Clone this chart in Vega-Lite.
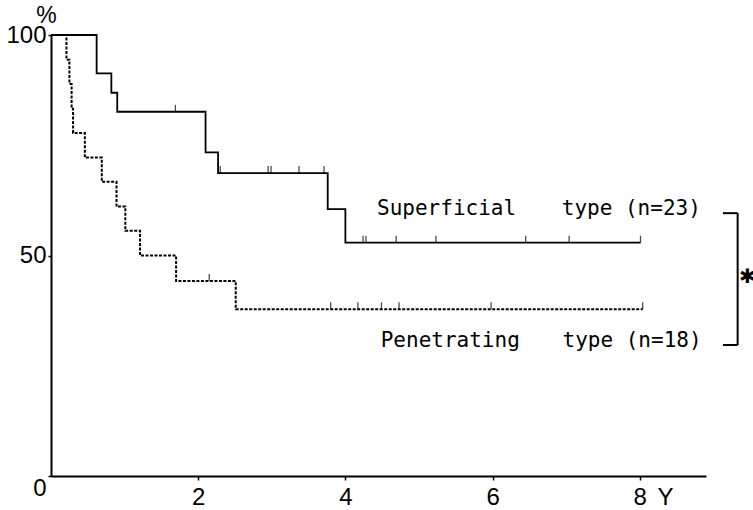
{
  "$schema": "https://vega.github.io/schema/vega-lite/v6.json",
  "width": 655,
  "height": 441,
  "autosize": "none",
  "padding": {"left": 51, "top": 35, "right": 47, "bottom": 34},
  "background": "white",
  "config": {
    "view": {"stroke": null},
    "axis": {"grid": false, "domainColor": "black", "tickColor": "black", "labelColor": "black", "titleColor": "black", "labelFont": "Liberation Sans", "titleFont": "Liberation Sans", "titleFontWeight": "normal"}
  },
  "datasets": {
    "curves": [
      {"series": "Superficial", "t": 0, "s": 100},
      {"series": "Superficial", "t": 0.62, "s": 91.3},
      {"series": "Superficial", "t": 0.82, "s": 86.9},
      {"series": "Superficial", "t": 0.90, "s": 82.6},
      {"series": "Superficial", "t": 2.10, "s": 73.4},
      {"series": "Superficial", "t": 2.27, "s": 68.7},
      {"series": "Superficial", "t": 3.76, "s": 60.5},
      {"series": "Superficial", "t": 4.00, "s": 52.9},
      {"series": "Superficial", "t": 8.01, "s": 52.9},
      {"series": "Penetrating", "t": 0, "s": 100},
      {"series": "Penetrating", "t": 0.21, "s": 94.4},
      {"series": "Penetrating", "t": 0.25, "s": 88.9},
      {"series": "Penetrating", "t": 0.28, "s": 83.3},
      {"series": "Penetrating", "t": 0.30, "s": 77.8},
      {"series": "Penetrating", "t": 0.46, "s": 72.2},
      {"series": "Penetrating", "t": 0.69, "s": 66.7},
      {"series": "Penetrating", "t": 0.89, "s": 61.1},
      {"series": "Penetrating", "t": 1.01, "s": 55.6},
      {"series": "Penetrating", "t": 1.21, "s": 50.0},
      {"series": "Penetrating", "t": 1.70, "s": 44.2},
      {"series": "Penetrating", "t": 2.51, "s": 37.8},
      {"series": "Penetrating", "t": 8.04, "s": 37.8}
    ],
    "censors": [
      {"series": "Superficial", "t": 1.69, "s": 82.6},
      {"series": "Superficial", "t": 2.30, "s": 68.7},
      {"series": "Superficial", "t": 2.95, "s": 68.7},
      {"series": "Superficial", "t": 2.99, "s": 68.7},
      {"series": "Superficial", "t": 3.37, "s": 68.7},
      {"series": "Superficial", "t": 3.71, "s": 68.7},
      {"series": "Superficial", "t": 4.24, "s": 52.9},
      {"series": "Superficial", "t": 4.28, "s": 52.9},
      {"series": "Superficial", "t": 4.69, "s": 52.9},
      {"series": "Superficial", "t": 5.23, "s": 52.9},
      {"series": "Superficial", "t": 6.45, "s": 52.9},
      {"series": "Superficial", "t": 7.04, "s": 52.9},
      {"series": "Superficial", "t": 8.01, "s": 52.9},
      {"series": "Penetrating", "t": 2.15, "s": 44.2},
      {"series": "Penetrating", "t": 3.80, "s": 37.8},
      {"series": "Penetrating", "t": 4.17, "s": 37.8},
      {"series": "Penetrating", "t": 4.49, "s": 37.8},
      {"series": "Penetrating", "t": 4.73, "s": 37.8},
      {"series": "Penetrating", "t": 5.98, "s": 37.8},
      {"series": "Penetrating", "t": 8.04, "s": 37.8}
    ],
    "labels": [
      {"text": "Superficial", "t": 4.43, "s": 59.2},
      {"text": "type (n=23)", "t": 6.94, "s": 59.2},
      {"text": "Penetrating", "t": 4.48, "s": 29.3},
      {"text": "type (n=18)", "t": 6.95, "s": 29.3}
    ],
    "bracket": [
      {"t": 9.13, "s": 59.6, "t2": 9.33, "s2": 59.6},
      {"t": 9.33, "s": 59.6, "t2": 9.33, "s2": 29.7},
      {"t": 9.13, "s": 29.7, "t2": 9.33, "s2": 29.7}
    ],
    "star": [
      {"text": "✱", "t": 9.35, "s": 45.1}
    ]
  },
  "layer": [
    {
      "data": {"name": "curves"},
      "transform": [{"filter": "datum.series === 'Superficial'"}],
      "mark": {"type": "line", "interpolate": "step-after", "color": "black", "strokeWidth": 1.8},
      "encoding": {
        "x": {"field": "t", "type": "quantitative", "scale": {"domain": [0, 8.9], "nice": false}, "axis": {"values": [2, 4, 6, 8], "format": "d", "title": "Y", "titleFontSize": 24, "titleX": 614, "titleY": 21, "titleAlign": "center", "titleBaseline": "middle", "labelFontSize": 24, "labelPadding": 5, "tickSize": 4, "tickWidth": 1.5, "domainWidth": 2}},
        "y": {"field": "s", "type": "quantitative", "scale": {"domain": [0, 100], "nice": false}, "axis": {"values": [0, 50, 100], "format": "d", "title": "%", "titleAngle": 0, "titleFontSize": 23, "titleX": -5, "titleY": -20, "titleAlign": "center", "titleBaseline": "middle", "labelFontSize": 24, "labelPadding": 2, "tickSize": 3, "tickWidth": 1.5, "domainWidth": 2, "labelBaseline": {"condition": {"test": "datum.value === 0", "value": "top"}, "value": "middle"}}}
      }
    },
    {
      "data": {"name": "curves"},
      "transform": [{"filter": "datum.series === 'Penetrating'"}],
      "mark": {"type": "line", "interpolate": "step-after", "color": "black", "strokeWidth": 2, "strokeDash": [3, 1.5]},
      "encoding": {
        "x": {"field": "t", "type": "quantitative"},
        "y": {"field": "s", "type": "quantitative"}
      }
    },
    {
      "data": {"name": "censors"},
      "mark": {"type": "tick", "orient": "vertical", "color": "black", "size": 7, "thickness": 1.3, "yOffset": -3.5},
      "encoding": {
        "x": {"field": "t", "type": "quantitative"},
        "y": {"field": "s", "type": "quantitative"}
      }
    },
    {
      "data": {"name": "labels"},
      "mark": {"type": "text", "font": "DejaVu Sans Mono", "fontSize": 21, "fontWeight": "normal", "align": "left", "baseline": "alphabetic", "color": "black"},
      "encoding": {
        "x": {"field": "t", "type": "quantitative"},
        "y": {"field": "s", "type": "quantitative"},
        "text": {"field": "text"}
      }
    },
    {
      "data": {"name": "bracket"},
      "mark": {"type": "rule", "color": "black", "strokeWidth": 2},
      "encoding": {
        "x": {"field": "t", "type": "quantitative"},
        "y": {"field": "s", "type": "quantitative"},
        "x2": {"field": "t2"},
        "y2": {"field": "s2"}
      }
    },
    {
      "data": {"name": "star"},
      "mark": {"type": "text", "font": "DejaVu Sans", "fontSize": 20, "fontWeight": "bold", "align": "left", "baseline": "middle", "color": "black"},
      "encoding": {
        "x": {"field": "t", "type": "quantitative"},
        "y": {"field": "s", "type": "quantitative"},
        "text": {"field": "text"}
      }
    }
  ]
}
